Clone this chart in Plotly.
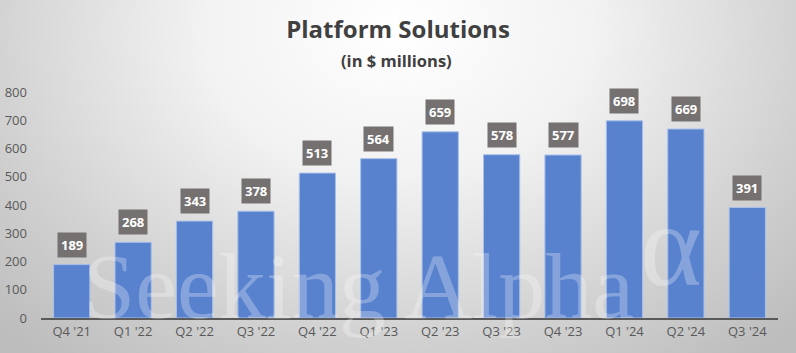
import base64
import plotly.graph_objects as go

categories = ["Q4 '21", "Q1 '22", "Q2 '22", "Q3 '22", "Q4 '22", "Q1 '23",
              "Q2 '23", "Q3 '23", "Q4 '23", "Q1 '24", "Q2 '24", "Q3 '24"]
values = [189, 268, 343, 378, 513, 564, 659, 578, 577, 698, 669, 391]
y_ticks = [0, 100, 200, 300, 400, 500, 600, 700, 800]

W, H = 796, 353
ML, MR, MT, MB = 41, 18, 92, 35
PW, PH = W - ML - MR, H - MT - MB

svg = f'''<svg xmlns="http://www.w3.org/2000/svg" width="{W}" height="{H}" viewBox="0 0 {W} {H}">
<defs><radialGradient id="g" cx="{W/2}" cy="30" r="560" gradientUnits="userSpaceOnUse"
 gradientTransform="translate(0,30) scale(1,0.75) translate(0,-30)">
<stop offset="0" stop-color="#ffffff"/><stop offset="0.35" stop-color="#f2f2f2"/>
<stop offset="0.75" stop-color="#d0d0d0"/><stop offset="1" stop-color="#bdbdbd"/></radialGradient></defs>
<rect width="{W}" height="{H}" fill="url(#g)"/></svg>'''
bg_uri = "data:image/svg+xml;base64," + base64.b64encode(svg.encode()).decode()

FONT = "Open Sans, Liberation Sans, sans-serif"

fig = go.Figure()
fig.add_trace(go.Bar(
    x=categories, y=values,
    marker=dict(color="#5882CE", line=dict(color="#a9c0ea", width=1)),
    hoverinfo="skip",
))

for c, v in zip(categories, values):
    fig.add_annotation(
        x=c, y=v, xref="x", yref="y", text=f"<b>{v}</b>",
        showarrow=False, yanchor="bottom", yshift=7,
        font=dict(family=FONT, size=13, color="white"),
        bgcolor="#767171", borderpad=3,
    )

fig.add_annotation(
    x=(396 - ML) / PW, y=1 + (MT - 60) / PH, xref="paper", yref="paper",
    text="<b>(in $ millions)</b>", showarrow=False, yanchor="middle",
    font=dict(family=FONT, size=16.5, color="#404040"),
)

# watermark
fig.add_annotation(
    x=(358 - ML) / PW, y=(H - MB - 286) / PH, xref="paper", yref="paper",
    text="Seeking Alpha", showarrow=False, yanchor="middle",
    font=dict(family="Liberation Serif, DejaVu Serif, serif", size=94, color="rgba(255,255,255,0.28)"),
)
fig.add_annotation(
    x=(638 - ML) / PW, y=(H - MB - 245) / PH, xref="paper", yref="paper",
    text="α", showarrow=False, yanchor="middle", xanchor="left",
    font=dict(family="Liberation Serif, DejaVu Serif, serif", size=118, color="rgba(255,255,255,0.28)"),
)

fig.add_layout_image(dict(
    source=bg_uri, xref="paper", yref="paper",
    x=-ML / PW, y=1 + MT / PH, sizex=W / PW, sizey=H / PH,
    xanchor="left", yanchor="top", sizing="stretch", layer="below",
))

fig.update_layout(
    width=W, height=H,
    margin=dict(l=ML, r=MR, t=MT, b=MB, autoexpand=False),
    paper_bgcolor="#e6e6e6", plot_bgcolor="rgba(0,0,0,0)",
    title=dict(text="<b>Platform Solutions</b>", x=0.5, xanchor="center",
               y=1 - 30 / H, yanchor="middle",
               font=dict(family=FONT, size=24, color="#404040")),
    bargap=0.41,
    showlegend=False,
    xaxis=dict(showline=True, linecolor="#595959", linewidth=2, ticks="",
               automargin=False,
               tickfont=dict(family=FONT, size=13, color="#595959"),
               showgrid=False, fixedrange=True),
    yaxis=dict(range=[0, 800], tickvals=y_ticks, showgrid=False, zeroline=False,
               showline=False, ticks="", ticklabelstandoff=13, automargin=False,
               tickfont=dict(family=FONT, size=13, color="#595959"),
               fixedrange=True),
)

fig.write_html("out.html")
